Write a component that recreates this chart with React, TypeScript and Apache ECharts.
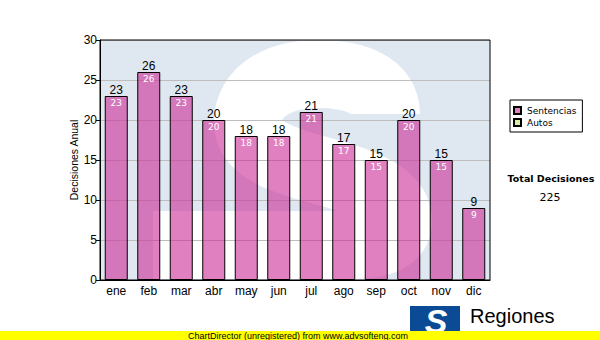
import React, { useEffect, useRef } from "react";
import * as echarts from "echarts";

const categories = ["ene", "feb", "mar", "abr", "may", "jun", "jul", "ago", "sep", "oct", "nov", "dic"];
const sentencias = [23, 26, 23, 20, 18, 18, 21, 17, 15, 20, 15, 9];
const autos: number[] = [];
const yTicks = { min: 0, max: 30, interval: 5 };
const totalLabel = "Total Decisiones";
const totalValue = 225;

const S_PATH =
  "M 386 114 C 386 86 356 74 318 74 C 278 74 248 92 248 122 C 248 152 290 162 330 173 C 376 186 398 200 398 222 C 398 238 380 245 350 245 L 153 245";

echarts.graphic.registerShape("sWatermark", echarts.graphic.extendPath(S_PATH, {}));

export default function App() {
  const ref = useRef<HTMLDivElement>(null);
  useEffect(() => {
    document.body.style.margin = "0";
    const chart = echarts.init(ref.current!, null, { renderer: "svg" });
    const axisFont = "Liberation Sans, Arial, sans-serif";
    chart.setOption({
      animation: false,
      backgroundColor: "#ffffff",
      grid: {
        left: 100,
        top: 40,
        width: 390,
        height: 240,
        show: true,
        borderColor: "#000",
        borderWidth: 1,
        backgroundColor: "transparent",
        z: 1,
      },
      legend: {
        data: ["Sentencias", "Autos"],
        orient: "vertical",
        left: 510,
        top: 100,
        width: 72,
        padding: [6, 6, 5, 3],
        itemWidth: 7,
        itemHeight: 7,
        itemGap: 3,
        backgroundColor: "#fff",
        borderColor: "#000",
        borderWidth: 1,
        icon: "rect",
        textStyle: { fontSize: 9, fontFamily: "DejaVu Sans", color: "#000", padding: [0, 0, 0, 1] },
      },
      xAxis: {
        type: "category",
        data: categories,
        axisLine: { lineStyle: { color: "#000", width: 1 } },
        axisTick: { alignWithLabel: true, length: 4, lineStyle: { color: "#000" } },
        axisLabel: { color: "#000", fontSize: 12, fontFamily: axisFont, margin: 5 },
      },
      yAxis: {
        type: "value",
        min: yTicks.min,
        max: yTicks.max,
        interval: yTicks.interval,
        name: "Decisiones Anual",
        nameLocation: "middle",
        nameRotate: 90,
        nameGap: 21,
        nameMoveOverlap: false,
        nameTextStyle: { color: "#000", fontSize: 10.5, fontFamily: axisFont },
        axisLine: { show: true, lineStyle: { color: "#000", width: 1 } },
        axisTick: { show: true, length: 4, lineStyle: { color: "#000" } },
        axisLabel: { color: "#000", fontSize: 12, fontFamily: axisFont, margin: 3 },
        splitLine: { show: true, lineStyle: { color: "#bdbdbd", width: 1 } },
      },
      graphic: [
        { type: "rect", z: -2, silent: true, shape: { x: 100, y: 40, width: 390, height: 240 }, style: { fill: "#dfe8f1" } },
        {
          type: "sWatermark",
          z: -1,
          silent: true,
          x: 0,
          y: 0,
          style: { fill: "none", stroke: "#ffffff", lineWidth: 68, lineCap: "butt" },
        },
        {
          type: "text",
          silent: true,
          style: {
            text: totalLabel,
            x: 551,
            y: 178,
            align: "center",
            verticalAlign: "middle",
            font: "bold 9.5px 'DejaVu Sans'",
            fill: "#000",
          },
        },
        {
          type: "text",
          silent: true,
          style: {
            text: String(totalValue),
            x: 550,
            y: 197,
            align: "center",
            verticalAlign: "middle",
            font: "11px 'DejaVu Sans'",
            fill: "#000",
          },
        },
        { type: "rect", silent: true, shape: { x: 410, y: 306, width: 50, height: 27 }, style: { fill: "#0b4b95" } },
        {
          type: "text",
          silent: true,
          style: {
            text: "S",
            x: 436,
            y: 321,
            align: "center",
            verticalAlign: "middle",
            font: "italic bold 34px 'Liberation Sans'",
            fill: "#fff",
          },
        },
        {
          type: "text",
          silent: true,
          style: {
            text: "Regiones",
            x: 470,
            y: 316,
            align: "left",
            verticalAlign: "middle",
            font: "20px 'Liberation Sans'",
            fill: "#000",
          },
        },
        { type: "rect", silent: true, z: 10, shape: { x: 0, y: 331, width: 600, height: 9 }, style: { fill: "#ffff00" } },
        {
          type: "text",
          silent: true,
          z: 11,
          style: {
            text: "ChartDirector (unregistered) from www.advsofteng.com",
            x: 298,
            y: 335.5,
            align: "center",
            verticalAlign: "middle",
            font: "9px 'Liberation Sans'",
            fill: "#000",
          },
        },
      ],
      series: [
        {
          name: "Sentencias",
          type: "bar",
          stack: "total",
          data: sentencias,
          barWidth: 23,
          itemStyle: { color: "rgba(203,43,150,0.6)", borderColor: "#000", borderWidth: 1 },
          label: {
            show: true,
            position: "top",
            distance: -13.5,
            formatter: (p: any) => `{a|${p.value}}\n{b|${p.value}}`,
            rich: {
              a: { color: "#000", fontSize: 12, fontFamily: axisFont, lineHeight: 13, align: "center" },
              b: { color: "#fff", fontSize: 9, fontFamily: "DejaVu Sans", lineHeight: 13, align: "center" },
            },
          },
        },
        {
          name: "Autos",
          type: "bar",
          stack: "total",
          data: autos,
          barWidth: 23,
          itemStyle: { color: "#d9f0a3", borderColor: "#000", borderWidth: 1 },
        },
      ],
    });
    return () => chart.dispose();
  }, []);
  return <div ref={ref} style={{ width: 600, height: 340, position: "absolute", left: 0, top: 0 }} />;
}
